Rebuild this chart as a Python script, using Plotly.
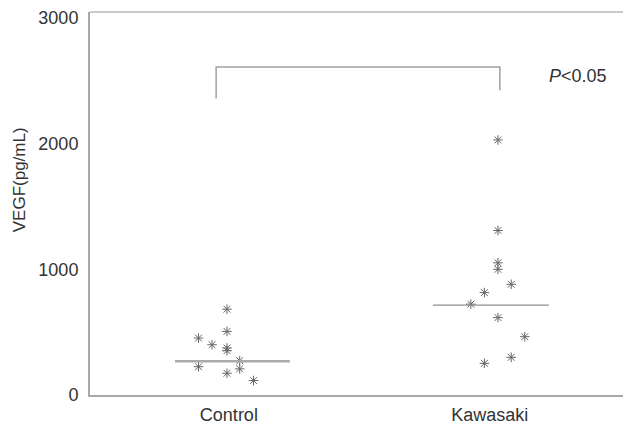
import plotly.graph_objects as go

categories = ["Control", "Kawasaki"]
control_values = [683, 506, 453, 400, 374, 353, 273, 225, 208, 173, 115]
control_jitter = [0, 0, -0.105, -0.055, 0, 0, 0.047, -0.105, 0.047, 0, 0.098]
kawasaki_values = [2030, 1309, 1052, 1000, 881, 815, 723, 616, 464, 300, 252]
kawasaki_jitter = [0, 0, 0, 0, 0.049, -0.05, -0.1, 0, 0.099, 0.049, -0.05]
medians = [268, 715]
y_ticks = [0, 1000, 2000, 3000]
bracket_levels = [2360, 2611, 2611, 2426]
p_text = "<i>P</i>&lt;0.05"

FONT = "Liberation Sans, Arial"
fig = go.Figure()
mk = dict(symbol="asterisk-open", size=8, line=dict(width=1, color="#666666"), color="#666666")
fig.add_trace(go.Scatter(x=[1 + j for j in control_jitter], y=control_values,
                         mode="markers", marker=mk, showlegend=False))
fig.add_trace(go.Scatter(x=[2 + j for j in kawasaki_jitter], y=kawasaki_values,
                         mode="markers", marker=mk, showlegend=False))
# median lines
fig.add_trace(go.Scatter(x=[0.808, 1.232], y=[medians[0]] * 2, mode="lines",
                         line=dict(color="#aaaaaa", width=2.5), showlegend=False))
fig.add_trace(go.Scatter(x=[1.76, 2.188], y=[medians[1]] * 2, mode="lines",
                         line=dict(color="#909090", width=1.3), showlegend=False))
# significance bracket
fig.add_trace(go.Scatter(x=[0.96, 0.96, 2.007, 2.007], y=bracket_levels, mode="lines",
                         line=dict(color="#a0a0a0", width=1.5), showlegend=False))

fig.add_annotation(x=2.18, y=2540, text=p_text, showarrow=False, xanchor="left",
                   font=dict(family=FONT, size=18, color="#333333"))
fig.add_annotation(x=-0.131, y=1710, xref="paper", yref="y", text="VEGF(pg/mL)",
                   textangle=-90, showarrow=False, xanchor="center", yanchor="middle",
                   font=dict(family=FONT, size=17, color="#333333"))
# top border
fig.add_shape(type="line", xref="paper", yref="paper", x0=0, x1=1, y0=1, y1=1,
              line=dict(color="#b8b8b8", width=1.5))

fig.update_layout(
    width=623, height=419,
    margin=dict(l=82, r=0, t=2, b=32),
    plot_bgcolor="white", paper_bgcolor="white",
    font=dict(family=FONT, size=18, color="#333333"),
    xaxis=dict(range=[0.4945, 2.491], tickvals=[1.007, 1.97], ticktext=categories,
               showgrid=False, zeroline=False, showline=True, linecolor="#a8a8a8",
               linewidth=2, ticks="", ticklabelstandoff=2),
    yaxis=dict(range=[0, 3048], tickvals=y_ticks, showgrid=False, zeroline=False,
               showline=True, linecolor="#a8a8a8", linewidth=2, ticks="",
               ticklabelstandoff=6, ticklabeloverflow="allow"),
)
fig.write_html("out.html")
